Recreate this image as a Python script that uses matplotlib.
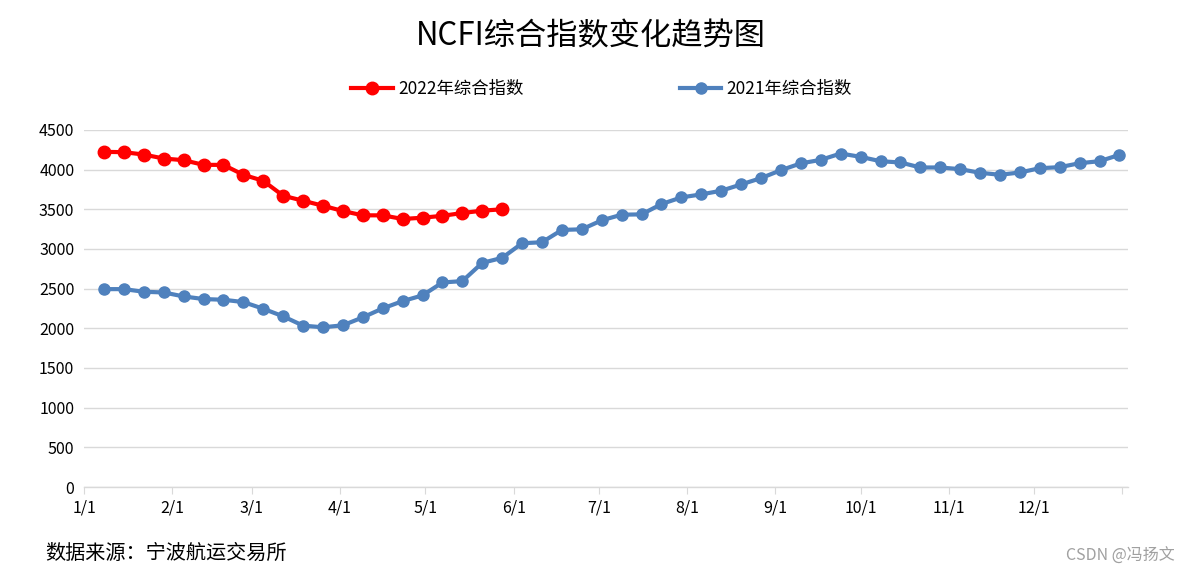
import pandas as pd
import matplotlib
matplotlib.use("Agg")
import matplotlib.pyplot as plt

plt.rcParams['font.family'] = ['Noto Sans CJK SC', 'DejaVu Sans']

# weekly index values
week_dates = pd.date_range('2021-01-08', periods=52, freq='7D')
index_2021 = [2494, 2494, 2461, 2452, 2402, 2369, 2360, 2331, 2247, 2151,
              2034, 2013, 2038, 2138, 2251, 2343, 2415, 2578, 2595, 2825,
              2888, 3072, 3085, 3240, 3248, 3361, 3432, 3436, 3566, 3650,
              3688, 3734, 3813, 3893, 3993, 4079, 4123, 4203, 4161, 4106,
              4090, 4027, 4027, 4006, 3960, 3935, 3964, 4018, 4031, 4081,
              4106, 4186]
index_2022 = [4224, 4220, 4190, 4140, 4119, 4060, 4060, 3935, 3859, 3671,
              3608, 3545, 3478, 3424, 3424, 3378, 3394, 3418, 3453, 3483,
              3500]
month_starts = pd.date_range('2021-01-01', periods=13, freq='MS')
month_labels = ['1/1', '2/1', '3/1', '4/1', '5/1', '6/1', '7/1', '8/1',
                '9/1', '10/1', '11/1', '12/1', '']

fig = plt.figure(figsize=(11.82, 5.75), dpi=100)
ax = fig.add_axes([0.0711, 0.153, 0.8832, 0.621])

ax.plot(week_dates[:len(index_2022)], index_2022, color='#FF0000', lw=3,
        marker='o', markersize=9, label='2022年综合指数', zorder=3)
ax.plot(week_dates, index_2021, color='#4F81BD', lw=3,
        marker='o', markersize=8, label='2021年综合指数', zorder=3)

ax.set_ylim(0, 4500)
ax.set_yticks(range(0, 4501, 500))
ax.set_xlim(pd.Timestamp('2021-01-01'), pd.Timestamp('2022-01-03'))
ax.set_xticks(month_starts)
ax.set_xticklabels(month_labels)

ax.grid(axis='y', color='#d9d9d9', lw=1)
ax.set_axisbelow(True)
for side in ['top', 'right', 'left']:
    ax.spines[side].set_visible(False)
ax.spines['bottom'].set_color('#d9d9d9')
ax.spines['bottom'].set_linewidth(1)
ax.tick_params(axis='y', length=0, pad=7, labelsize=11.5)
ax.tick_params(axis='x', length=5, color='#d9d9d9', pad=4, labelsize=11.5)

fig.text(0.5, 0.937, 'NCFI综合指数变化趋势图', ha='center', va='center', fontsize=22.5)
fig.legend(loc='center', bbox_to_anchor=(0.509, 0.845), ncol=2, frameon=False,
           fontsize=12.5, handlelength=2.4, handletextpad=0.3, columnspacing=9.0)
fig.text(0.038, 0.038, '数据来源：宁波航运交易所', ha='left', va='center', fontsize=14.5)
fig.text(0.994, 0.033, 'CSDN @冯扬文', ha='right', va='center', fontsize=11.5, color='#a0a0a0')

fig.savefig('out.png', dpi=100)
